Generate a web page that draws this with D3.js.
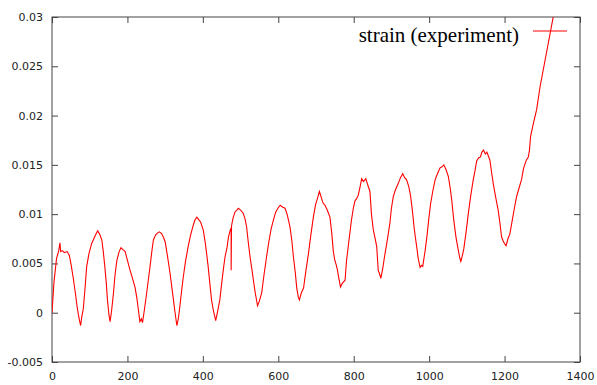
<!DOCTYPE html>
<html>
<head>
<meta charset="utf-8">
<script src="https://cdn.jsdelivr.net/npm/d3@7"></script>
<style>
  body { margin: 0; background: #fff; }
  svg { display: block; }
</style>
</head>
<body>
<div id="chart"></div>
<script>
// dati: tempo (asse x) e deformazione (asse y)
var time = [0,5,12,18,21,23,27,33,40,46,51,56,62,67,70,73,76,79,83,87,92,98,105,112,117,121,126,132,136,140,144,147,151,154,158,163,167,172,178,183,188,194,200,207,214,220,225,229,233,237,240,245,251,256,260,265,269,275,280,285,291,296,300,306,313,318,322,326,331,335,339,343,348,354,361,367,374,379,384,388,394,401,406,410,414,419,423,428,434,438,445,450,455,459,464,468,472,475,475,476,480,485,490,494,500,507,512,516,520,525,530,534,539,545,550,556,562,569,575,581,587,593,599,605,612,618,624,631,636,640,645,649,653,656,661,667,673,680,686,693,699,704,709,714,719,724,730,737,742,746,750,754,757,761,765,770,777,781,787,794,799,803,808,812,817,821,826,832,837,843,847,852,857,861,865,868,872,877,883,890,896,900,905,911,918,924,930,935,940,946,951,956,960,964,967,971,976,980,983,989,994,999,1004,1010,1016,1022,1029,1034,1039,1045,1051,1056,1060,1065,1071,1077,1081,1084,1088,1092,1098,1104,1110,1117,1122,1126,1131,1136,1140,1144,1149,1153,1157,1161,1165,1170,1176,1183,1188,1192,1196,1200,1204,1209,1214,1220,1226,1232,1238,1245,1250,1255,1258,1263,1266,1269,1277,1285,1294,1329];
var strain = [0.0000,0.0030,0.0055,0.0063,0.0071,0.0062,0.0063,0.0061,0.0062,0.0058,0.0048,0.0036,0.0020,0.0005,-0.0002,-0.0008,-0.0013,-0.0004,0.0004,0.0022,0.0047,0.0060,0.0070,0.0076,0.0080,0.0083,0.0080,0.0074,0.0062,0.0047,0.0030,0.0013,-0.0002,-0.0009,0.0002,0.0020,0.0038,0.0053,0.0062,0.0066,0.0064,0.0062,0.0053,0.0043,0.0034,0.0026,0.0015,0.0003,-0.0009,-0.0006,-0.0010,0.0003,0.0020,0.0035,0.0047,0.0063,0.0074,0.0079,0.0081,0.0082,0.0080,0.0076,0.0072,0.0058,0.0040,0.0025,0.0013,0.0001,-0.0013,-0.0006,0.0006,0.0020,0.0036,0.0052,0.0067,0.0078,0.0088,0.0094,0.0097,0.0095,0.0092,0.0084,0.0072,0.0060,0.0047,0.0028,0.0013,0.0002,-0.0008,-0.0001,0.0013,0.0030,0.0046,0.0057,0.0066,0.0077,0.0083,0.0086,0.0043,0.0088,0.0096,0.0102,0.0104,0.0106,0.0104,0.0101,0.0095,0.0087,0.0073,0.0057,0.0044,0.0033,0.0020,0.0007,0.0012,0.0020,0.0038,0.0057,0.0072,0.0085,0.0094,0.0102,0.0106,0.0109,0.0107,0.0106,0.0099,0.0087,0.0073,0.0057,0.0041,0.0025,0.0016,0.0013,0.0020,0.0025,0.0042,0.0060,0.0078,0.0097,0.0110,0.0116,0.0123,0.0117,0.0111,0.0109,0.0104,0.0097,0.0080,0.0062,0.0053,0.0048,0.0043,0.0034,0.0026,0.0030,0.0033,0.0053,0.0072,0.0094,0.0106,0.0113,0.0116,0.0119,0.0128,0.0136,0.0133,0.0136,0.0130,0.0123,0.0100,0.0084,0.0075,0.0067,0.0043,0.0040,0.0035,0.0045,0.0060,0.0076,0.0091,0.0106,0.0118,0.0125,0.0131,0.0137,0.0141,0.0137,0.0135,0.0128,0.0118,0.0102,0.0087,0.0075,0.0067,0.0055,0.0046,0.0048,0.0047,0.0062,0.0077,0.0095,0.0111,0.0124,0.0135,0.0141,0.0147,0.0148,0.0150,0.0145,0.0138,0.0126,0.0114,0.0095,0.0077,0.0064,0.0056,0.0052,0.0058,0.0065,0.0082,0.0101,0.0118,0.0135,0.0145,0.0154,0.0157,0.0158,0.0163,0.0165,0.0161,0.0163,0.0159,0.0155,0.0144,0.0131,0.0118,0.0104,0.0090,0.0077,0.0073,0.0070,0.0068,0.0075,0.0080,0.0093,0.0106,0.0118,0.0126,0.0135,0.0146,0.0152,0.0155,0.0158,0.0165,0.0179,0.0193,0.0206,0.0229,0.0300];
var xTicks = [0, 200, 400, 600, 800, 1000, 1200, 1400];
var yTicks = [-0.005, 0, 0.005, 0.01, 0.015, 0.02, 0.025, 0.03];
var seriesName = "strain (experiment)";

// dimensioni e margini
var W = 597, H = 385;
var margin = {top: 17, right: 17, bottom: 23, left: 52};
var width = W - margin.left - margin.right;
var height = H - margin.top - margin.bottom;

var svg = d3.select("#chart")
	.append("svg")
	.attr("width", W)
	.attr("height", H)
	.append("g")
	.attr("transform", "translate(" + margin.left + "," + margin.top + ")");

var x = d3.scaleLinear().domain([0, 1400]).range([0, width]);
var y = d3.scaleLinear().domain([-0.005, 0.03]).range([height, 0]);

var axisColor = "#444";
var tickLen = 6;

// tacche verso l'interno su tutti e quattro i lati
function styleAxis(g) {
	g.select(".domain").remove();
	g.selectAll(".tick line").attr("stroke", axisColor);
	g.selectAll(".tick text")
		.attr("fill", "#222")
		.style("font-family", "'DejaVu Sans', sans-serif")
		.style("font-size", "11px");
}

svg.append("g")
	.attr("transform", "translate(0," + height + ")")
	.call(d3.axisBottom(x).tickValues(xTicks).tickSize(-tickLen).tickPadding(10).tickFormat(d3.format("d")))
	.call(styleAxis);

svg.append("g")
	.call(d3.axisTop(x).tickValues(xTicks).tickSize(-tickLen).tickFormat(""))
	.call(styleAxis);

svg.append("g")
	.call(d3.axisLeft(y).tickValues(yTicks).tickSize(-tickLen).tickPadding(9).tickFormat(function (d) {
		return d === 0 ? "0" : String(+d.toFixed(3));
	}))
	.call(styleAxis);

svg.append("g")
	.attr("transform", "translate(" + width + ",0)")
	.call(d3.axisRight(y).tickValues(yTicks).tickSize(-tickLen).tickFormat(""))
	.call(styleAxis);

// cornice
svg.append("rect")
	.attr("width", width)
	.attr("height", height)
	.attr("fill", "none")
	.attr("stroke", axisColor)
	.attr("stroke-width", 1);

svg.append("clipPath")
	.attr("id", "clip")
	.append("rect")
	.attr("width", width)
	.attr("height", height);

var data = time.map(function (t, i) { return {t: t, s: strain[i]}; });

var line = d3.line()
	.x(function (d) { return x(d.t); })
	.y(function (d) { return y(d.s); });

svg.append("path")
	.datum(data)
	.attr("clip-path", "url(#clip)")
	.attr("fill", "none")
	.attr("stroke", "#ff0000")
	.attr("stroke-width", 1.1)
	.attr("d", line);

// legenda
var legend = svg.append("g")
	.attr("transform", "translate(" + (width - 47) + ",14)");

legend.append("text")
	.attr("x", -14)
	.attr("y", 10.5)
	.attr("text-anchor", "end")
	.style("font-family", "'Liberation Serif', 'Times New Roman', serif")
	.style("font-size", "21px")
	.attr("fill", "#000")
	.text(seriesName);

legend.append("line")
	.attr("x1", 0)
	.attr("x2", 34)
	.attr("y1", 0)
	.attr("y2", 0)
	.attr("stroke", "#ff0000")
	.attr("stroke-width", 1);
</script>
</body>
</html>
